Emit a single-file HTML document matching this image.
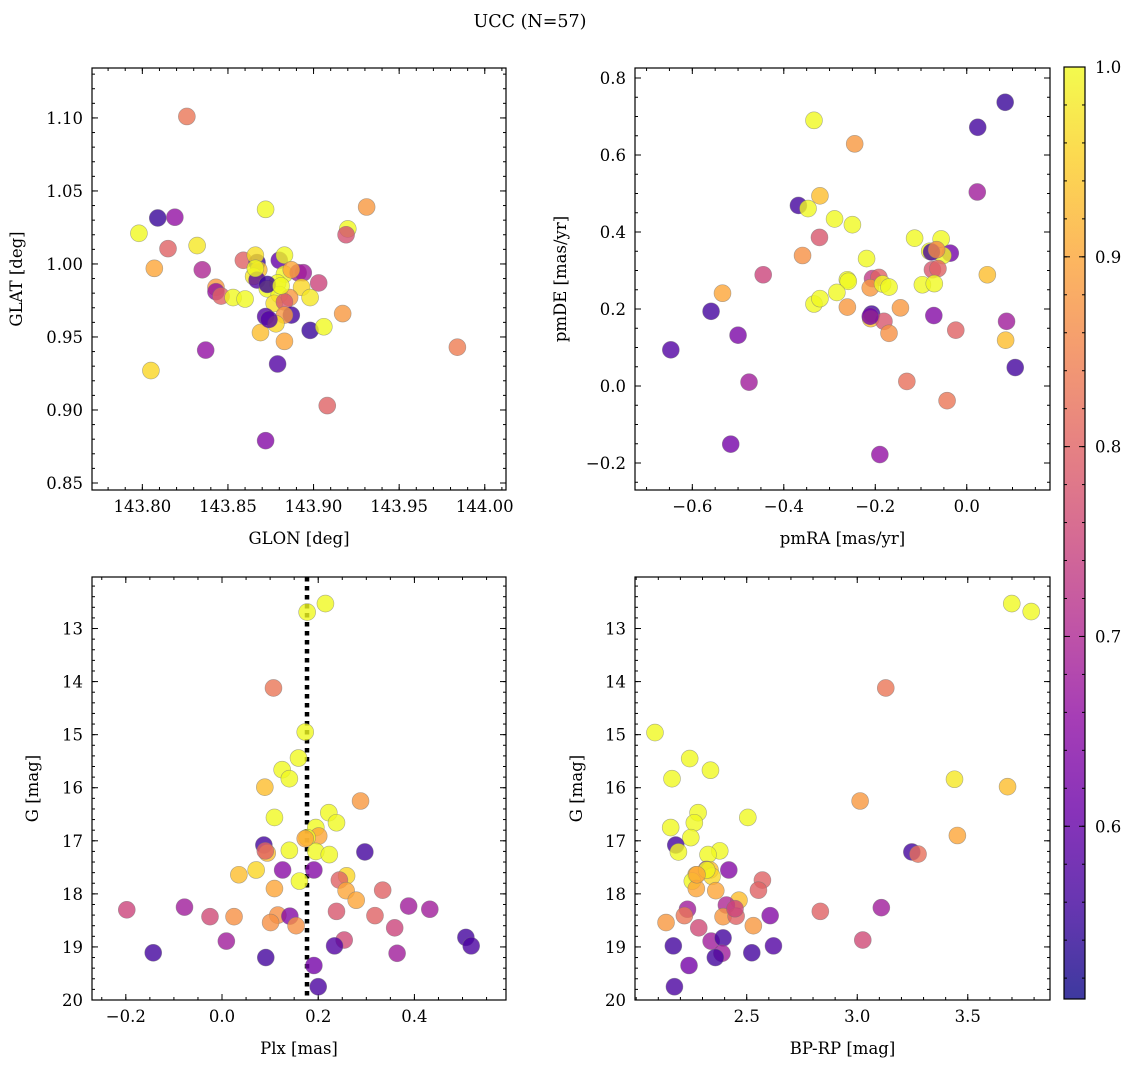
<!DOCTYPE html>
<html><head><meta charset="utf-8"><title>UCC (N=57)</title>
<style>
html,body{margin:0;padding:0;background:#fff;}
svg{display:block;font-family:"DejaVu Serif","Liberation Serif",serif;}
</style></head>
<body>
<svg id="fig" width="1136" height="1067" viewBox="0 0 1136 1067" xmlns="http://www.w3.org/2000/svg">
<defs>
<linearGradient id="plasma" x1="0" y1="1" x2="0" y2="0"></linearGradient>
</defs>
<text x="530" y="27" font-size="17.5" text-anchor="middle">UCC (N=57)</text>
</svg>
<script>
// ---- Panel 1: GLON / GLAT ----
const glon = [143.826,143.809,143.819,143.798,143.815,143.832,143.807,143.835,143.872,143.931,143.920,143.919,143.859,143.867,143.866,143.880,143.883,143.868,143.865,143.867,143.883,143.879,143.891,143.894,143.903,143.893,143.898,143.843,143.843,143.846,143.853,143.860,143.873,143.880,143.877,143.886,143.883,143.872,143.887,143.883,143.878,143.869,143.883,143.898,143.906,143.917,143.837,143.879,143.805,143.984,143.908,143.872,143.873,143.881,143.874,143.866,143.887];
const glat = [1.101,1.0315,1.032,1.021,1.0105,1.0126,0.997,0.996,1.0374,1.039,1.024,1.020,1.0025,1.001,1.006,1.0025,1.006,0.996,0.9915,0.989,0.993,0.987,0.994,0.994,0.987,0.984,0.977,0.984,0.981,0.978,0.977,0.976,0.983,0.979,0.973,0.977,0.974,0.964,0.965,0.965,0.959,0.953,0.947,0.9545,0.957,0.966,0.941,0.9315,0.927,0.943,0.903,0.879,0.986,0.985,0.962,0.997,0.996];
const prob1 = [0.83,0.55,0.66,1.0,0.8,0.98,0.9,0.7,1.0,0.88,1.0,0.77,0.8,0.55,0.97,0.6,1.0,0.93,0.98,0.58,1.0,1.0,0.68,0.68,0.75,0.96,0.98,0.88,0.66,0.8,1.0,1.0,1.0,1.0,0.97,0.88,0.78,0.58,0.56,0.88,0.96,0.93,0.9,0.55,1.0,0.88,0.66,0.58,0.96,0.84,0.8,0.64,0.55,1.0,0.58,1.0,0.9];
// ---- Panel 2: pmRA / pmDE ----
const pmra = [0.084,0.024,-0.334,-0.245,0.023,-0.368,-0.347,-0.321,-0.289,-0.250,-0.322,-0.359,-0.445,-0.534,-0.559,-0.500,-0.647,-0.476,-0.516,-0.190,-0.219,-0.114,-0.056,-0.081,-0.036,-0.052,-0.075,-0.063,0.045,-0.261,-0.259,-0.284,-0.334,-0.321,-0.261,-0.206,-0.192,-0.211,-0.184,-0.170,-0.097,-0.071,-0.145,-0.208,-0.210,-0.181,-0.170,-0.072,-0.024,0.087,0.085,0.106,-0.131,-0.043,-0.077,-0.211,-0.066];
const pmde = [0.737,0.672,0.690,0.629,0.504,0.469,0.461,0.494,0.434,0.419,0.386,0.339,0.289,0.241,0.194,0.132,0.094,0.010,-0.151,-0.178,0.331,0.384,0.382,0.350,0.345,0.339,0.302,0.305,0.289,0.276,0.272,0.243,0.213,0.227,0.205,0.279,0.282,0.255,0.265,0.257,0.263,0.266,0.203,0.187,0.175,0.168,0.137,0.183,0.145,0.168,0.119,0.048,0.012,-0.038,0.348,0.181,0.354];
const prob2 = [0.55,0.56,1.0,0.88,0.68,0.56,1.0,0.93,1.0,1.0,0.78,0.87,0.75,0.9,0.56,0.63,0.58,0.68,0.62,0.66,1.0,1.0,1.0,1.0,0.62,1.0,0.78,0.8,0.93,1.0,1.0,1.0,1.0,1.0,0.88,0.73,0.8,0.88,1.0,1.0,1.0,1.0,0.88,0.56,0.93,0.78,0.87,0.64,0.8,0.68,0.93,0.56,0.82,0.83,0.56,0.62,0.86];
// ---- Panel 3: Plx / G ----
const plx = [0.215,0.177,0.107,0.173,0.159,0.125,0.140,0.089,0.288,0.109,0.222,0.238,0.195,0.201,0.177,0.087,0.094,0.090,0.140,0.195,0.223,0.297,0.126,0.191,0.035,0.071,0.161,0.259,0.244,0.109,0.258,0.279,0.334,-0.198,-0.078,-0.025,0.025,0.116,0.141,0.101,0.154,0.238,0.318,0.388,0.432,0.359,0.009,0.254,-0.143,0.091,0.234,0.364,0.191,0.200,0.507,0.518,0.173];
const gmag3 = [12.53,12.69,14.12,14.95,15.44,15.66,15.83,15.99,16.25,16.56,16.47,16.66,16.75,16.91,16.94,17.08,17.23,17.19,17.18,17.20,17.26,17.21,17.55,17.55,17.64,17.55,17.76,17.66,17.74,17.90,17.94,18.12,17.93,18.30,18.25,18.43,18.43,18.40,18.42,18.54,18.60,18.33,18.41,18.23,18.29,18.64,18.89,18.87,19.11,19.20,18.98,19.12,19.35,19.75,18.82,18.98,16.96];
const prob3 = [1.0,1.0,0.83,1.0,1.0,1.0,1.0,0.93,0.88,1.0,1.0,1.0,1.0,0.9,1.0,0.56,0.93,0.8,1.0,1.0,1.0,0.56,0.65,0.64,0.93,0.96,1.0,0.96,0.8,0.9,0.9,0.9,0.8,0.75,0.68,0.76,0.87,0.87,0.64,0.87,0.87,0.78,0.8,0.68,0.68,0.75,0.68,0.76,0.56,0.56,0.58,0.68,0.62,0.57,0.56,0.57,0.9];
const plxLine = 0.1767;
// ---- Panel 4: BP-RP / G ----
const bprp = [3.699,3.787,3.129,2.085,2.242,2.336,2.162,3.440,3.680,3.013,2.280,2.505,2.263,2.156,2.247,3.453,2.179,2.191,2.378,2.325,3.247,3.275,2.318,2.419,2.271,2.334,2.343,2.254,2.571,2.272,2.360,2.465,2.553,2.232,2.218,2.408,2.393,2.452,2.135,2.530,2.606,2.833,3.109,2.283,2.339,3.025,2.393,2.168,2.621,2.523,2.388,2.358,2.239,2.173,2.447,2.319,2.275];
const gmag4 = [12.53,12.68,14.12,14.96,15.45,15.67,15.83,15.84,15.98,16.25,16.47,16.56,16.66,16.75,16.94,16.90,17.08,17.21,17.19,17.26,17.21,17.25,17.54,17.55,17.64,17.55,17.67,17.76,17.74,17.90,17.94,18.12,17.93,18.29,18.41,18.21,18.43,18.42,18.54,18.60,18.41,18.33,18.26,18.64,18.89,18.87,18.83,18.98,18.98,19.11,19.12,19.20,19.35,19.75,18.28,17.55,17.64];
const prob4 = [1.0,1.0,0.83,1.0,1.0,1.0,1.0,0.98,0.93,0.88,1.0,1.0,1.0,1.0,1.0,0.9,0.56,1.0,1.0,1.0,0.56,0.82,0.64,0.64,0.93,0.93,0.96,1.0,0.8,0.9,0.9,0.93,0.8,0.68,0.83,0.7,0.88,0.8,0.88,0.88,0.64,0.8,0.68,0.76,0.68,0.76,0.56,0.56,0.58,0.56,0.68,0.56,0.62,0.57,0.75,1.0,0.9];
// ---- ticks ----
const ticks1x = [143.80,143.85,143.90,143.95,144.00];
const ticks1y = [0.85,0.90,0.95,1.00,1.05,1.10];
const ticks2x = [-0.6,-0.4,-0.2,0.0];
const ticks2y = [-0.2,0.0,0.2,0.4,0.6,0.8];
const ticks3x = [-0.2,0.0,0.2,0.4];
const ticksG = [13,14,15,16,17,18,19,20];
const ticks4x = [2.5,3.0,3.5];
const ticksCb = [0.6,0.7,0.8,0.9,1.0];
const cbMin = 0.509, cbMax = 1.0;

const NS = "http://www.w3.org/2000/svg";
const svg = document.getElementById('fig');
const FS = 16.5;
const plasmaStops = [[13,8,135],[65,4,157],[106,0,168],[143,13,164],[177,42,144],[204,71,120],[225,100,98],[242,132,75],[252,166,54],[252,206,37],[240,249,33]];
function plasma(t){t=Math.max(0,Math.min(1,t));const f=t*10;const i=Math.min(9,Math.floor(f));const r=f-i;const a=plasmaStops[i],b=plasmaStops[i+1];
 return 'rgb('+Math.round(a[0]+(b[0]-a[0])*r)+','+Math.round(a[1]+(b[1]-a[1])*r)+','+Math.round(a[2]+(b[2]-a[2])*r)+')';}
function cmap(p){return plasma((p-cbMin)/(cbMax-cbMin));}
function mk(tag,attrs,parent){const e=document.createElementNS(NS,tag);for(const k in attrs)e.setAttribute(k,attrs[k]);(parent||svg).appendChild(e);return e;}
function fmt(v,d){let s=v.toFixed(d);if(v<0)s='\u2212'+(-v).toFixed(d);return s;}

function panel(cfg){
 const g=mk('g',{});
 
 
 const L=cfg.L,R=cfg.R,T=cfg.T,B=cfg.B;
 const sx=v=>L+(v-cfg.x0)/(cfg.x1-cfg.x0)*(R-L);
 const sy=v=>B-(v-cfg.y0)/(cfg.y1-cfg.y0)*(B-T);
 const tg=mk('g',{stroke:'#000','stroke-width':1},g);
 function ticksAlong(axis,lo,hi,step,len){
  const n0=Math.ceil((Math.min(lo,hi)-1e-9)/step),n1=Math.floor((Math.max(lo,hi)+1e-9)/step);
  for(let n=n0;n<=n1;n++){const v=n*step;
   if(axis==='x'){const x=sx(v);mk('line',{x1:x,x2:x,y1:B,y2:B-len},tg);mk('line',{x1:x,x2:x,y1:T,y2:T+len},tg);}
   else{const y=sy(v);mk('line',{x1:L,x2:L+len,y1:y,y2:y},tg);mk('line',{x1:R,x2:R-len,y1:y,y2:y},tg);}}
 }
 ticksAlong('x',cfg.x0,cfg.x1,cfg.xminor,3);
 ticksAlong('y',cfg.y0,cfg.y1,cfg.yminor,3);
 cfg.xt.forEach(v=>{const x=sx(v);mk('line',{x1:x,x2:x,y1:B,y2:B-6},tg);mk('line',{x1:x,x2:x,y1:T,y2:T+6},tg);
  const t=mk('text',{x:x,y:B+22,'font-size':FS,'text-anchor':'middle'},g);t.textContent=fmt(v,cfg.xd);
  
  });
 cfg.yt.forEach((v,k)=>{const y=sy(v);mk('line',{x1:L,x2:L+6,y1:y,y2:y},tg);mk('line',{x1:R,x2:R-6,y1:y,y2:y},tg);
  const t=mk('text',{x:L-9,y:y+6,'font-size':FS,'text-anchor':'end'},g);t.textContent=cfg.ylab?cfg.ylab[k]:fmt(v,cfg.yd);
  
  });
 if(cfg.vline!==undefined){const x=sx(cfg.vline);const l=mk('line',{x1:x,x2:x,y1:T,y2:B,stroke:'#000','stroke-width':4.5,'stroke-dasharray':'4.5,4.5'},g);
  
  }
 const pg=mk('g',{},g);
 cfg.xs.forEach((xv,i)=>{const c=mk('circle',{cx:sx(xv),cy:sy(cfg.ys[i]),r:8.5,fill:cmap(cfg.ps[i]),'fill-opacity':0.8,stroke:'#777','stroke-opacity':0.6,'stroke-width':0.6},pg);
  
  });
 mk('rect',{x:L,y:T,width:R-L,height:B-T,fill:'none',stroke:'#000','stroke-width':1.2},g);
 const xl=mk('text',{x:(L+R)/2,y:B+54,'font-size':FS,'text-anchor':'middle'},g);xl.textContent=cfg.xlabel;
 
 
 const yl=mk('text',{x:cfg.ylx,y:(T+B)/2,'font-size':FS,'text-anchor':'middle',transform:'rotate(-90 '+cfg.ylx+' '+(T+B)/2+')'},g);yl.textContent=cfg.ylabel;
 
 
}

panel({name:'glon-glat-panel',L:92,R:506,T:68,B:490,x0:143.7706,x1:144.0124,y0:0.8452,y1:1.1342,xminor:0.01,yminor:0.01,xt:ticks1x,yt:ticks1y,xd:2,yd:2,xs:glon,ys:glat,ps:prob1,xlabel:'GLON [deg]',ylabel:'GLAT [deg]',ylx:22});
panel({name:'pm-panel',L:635,R:1050,T:68,B:490,x0:-0.7253,x1:0.182,y0:-0.2701,y1:0.826,xminor:0.05,yminor:0.05,xt:ticks2x,yt:ticks2y,xd:1,yd:1,xs:pmra,ys:pmde,ps:prob2,xlabel:'pmRA [mas/yr]',ylabel:'pmDE [mas/yr]',ylx:566});
panel({name:'plx-g-panel',L:92,R:506,T:577,B:1000,x0:-0.2703,x1:0.5904,y0:-20.0,y1:-12.029,xminor:0.05,yminor:0.2,xt:ticks3x,yt:ticksG.map(v=>-v),ylab:ticksG.map(String),xd:1,yd:0,xs:plx,ys:gmag3.map(v=>-v),ps:prob3,vline:plxLine,xlabel:'Plx [mas]',ylabel:'G [mag]',ylx:38});
panel({name:'color-g-panel',L:635,R:1050,T:577,B:1000,x0:1.9946,x1:3.872,y0:-20.0,y1:-12.029,xminor:0.1,yminor:0.2,xt:ticks4x,yt:ticksG.map(v=>-v),ylab:ticksG.map(String),xd:1,yd:0,xs:bprp,ys:gmag4.map(v=>-v),ps:prob4,xlabel:'BP-RP [mag]',ylabel:'G [mag]',ylx:582});

// colorbar
const grad=document.getElementById('plasma');
for(let i=0;i<=10;i++){mk('stop',{offset:(i*10)+'%','stop-color':plasma(i/10)},grad);}
const cbL=1064,cbR=1085,cbT=67,cbB=999;
const cb=mk('g',{});


mk('rect',{x:cbL,y:cbT,width:cbR-cbL,height:cbB-cbT,fill:'url(#plasma)','fill-opacity':0.8},cb);
const cy=v=>cbB-(v-cbMin)/(cbMax-cbMin)*(cbB-cbT);
for(let n=Math.ceil(cbMin/0.02);n*0.02<=cbMax+1e-9;n++){const y=cy(n*0.02);mk('line',{x1:cbR,x2:cbR-3,y1:y,y2:y,stroke:'#000'},cb);mk('line',{x1:cbL,x2:cbL+3,y1:y,y2:y,stroke:'#000'},cb);}
ticksCb.forEach(v=>{const y=cy(v);mk('line',{x1:cbR,x2:cbR-6,y1:y,y2:y,stroke:'#000'},cb);mk('line',{x1:cbL,x2:cbL+6,y1:y,y2:y,stroke:'#000'},cb);
 const t=mk('text',{x:cbR+10,y:y+6,'font-size':FS},cb);t.textContent=v.toFixed(1);
 
 });
mk('rect',{x:cbL,y:cbT,width:cbR-cbL,height:cbB-cbT,fill:'none',stroke:'#000','stroke-width':1.2},cb);
</script>
</body></html>
